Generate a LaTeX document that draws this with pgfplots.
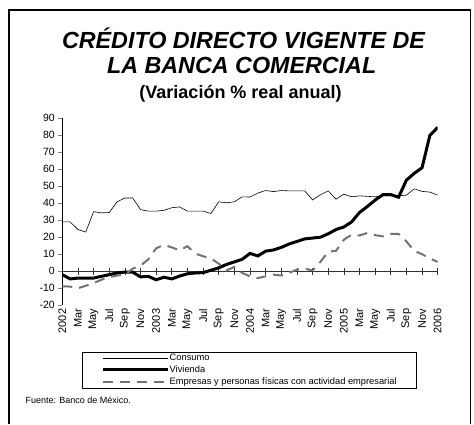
\documentclass[border=0pt]{standalone}
\usepackage{fontspec}
\setmainfont{Liberation Sans}
\usepackage{pgfplots}
\usepackage{pgfplotstable}
\pgfplotsset{compat=1.18}

% months since Jan 2002, Consumo, Vivienda, Empresas
\pgfplotstableread{
m  con   viv    emp
0  29    -2     -8.8
1  29    -4.5   -9
2  24.5  -4     -10
3  23    -4     -8.5
4  35    -4     -7
5  34.3  -3     -5
6  34.5  -2     -3.5
7  40.8  -1     -2.5
8  43    -0.5   -2
9  43    -0.5   1.5
10 36.2  -3.3   3.3
11 35.3  -3     7
12 35.3  -5     13.5
13 35.8  -3.5   15.5
14 37.3  -4.5   14
15 37.8  -2.8   12.3
16 35.3  -1.5   14.7
17 35.3  -1     10.4
18 35.3  -0.8   8.8
19 33.9  0.6    7.5
20 40.8  2      4.5
21 40.2  4      0.5
22 40.8  5.5    2.5
23 43.7  7      -1
24 43.6  10.5   -3
25 45.9  9      -4
26 47.4  11.8   -3
27 46.8  12.5   -2
28 47.4  14     -2.5
29 47.2  16     -1
30 47.2  17.5   1
31 47.2  19     1.5
32 41.9  19.5   0.5
33 44.9  20     5.5
34 47.2  22     11.5
35 42.3  24.5   12
36 45.3  26     18.5
37 43.7  29     21.5
38 44.3  34.5   21
39 44    38     22.5
40 43.7  41.8   21.2
41 44.3  45     20.5
42 44.3  45     22
43 44.3  43.5   22
44 44.7  53.5   17.5
45 48.4  57.5   12
46 46.9  60.8   10
47 46.5  79.8   7.5
48 44.7  84.5   5.5
}\credito

\begin{document}
\begin{tikzpicture}
\path[use as bounding box] (0pt,0pt) rectangle (474pt,-424pt);
\draw[line width=1.5pt] (9pt,-424pt) -- (9pt,-10pt) -- (470.5pt,-10pt) -- (470.5pt,-424pt);
\coordinate (O) at (62.3pt,-305.3pt);

\node[anchor=base, font=\fontsize{23.3}{26}\selectfont\bfseries\itshape] at (243.5pt,-48pt) {CRÉDITO DIRECTO VIGENTE DE};
\node[anchor=base, font=\fontsize{23.3}{26}\selectfont\bfseries\itshape] at (241.7pt,-73pt) {LA BANCA COMERCIAL};
\node[anchor=base, font=\fontsize{18}{20}\selectfont\bfseries] at (240.5pt,-98pt) {(Variación \% real anual)};
\node[anchor=base west, font=\fontsize{9}{10}\selectfont] at (22pt,-403pt) {Fuente: Banco de México.};

% zero line with centred ticks
\begin{axis}[
    at={(O)}, anchor=south west,
    scale only axis, width=375.4pt, height=187.3pt,
    xmin=0, xmax=48, ymin=-20, ymax=90,
    axis x line*=middle, axis y line=none,
    xtick={0,2,...,48}, xticklabels={},
    xtick align=center, major tick length=7pt,
    x axis line style={line width=0.7pt, black!80},
    tick style={line width=0.7pt, black!80},
    ytick=\empty,
]
\end{axis}

\begin{axis}[
    at={(O)}, anchor=south west,
    scale only axis, width=375.4pt, height=187.3pt,
    xmin=0, xmax=48, ymin=-20, ymax=90,
    axis y line*=left, axis x line*=bottom,
    x axis line style={draw=none},
    major x tick style={draw=none},
    y axis line style={line width=0.6pt},
    ytick align=outside, major tick length=4pt,
    ytick={-20,-10,...,90},
    yticklabels={-20,-10,0,10,20,30,40,50,60,70,80,90},
    y tick label style={font=\fontsize{10.5}{12}\selectfont},
    xtick={0,2,...,48},
    xticklabels={2002,Mar,May,Jul,Sep,Nov,2003,Mar,May,Jul,Sep,Nov,2004,Mar,May,Jul,Sep,Nov,2005,Mar,May,Jul,Sep,Nov,2006},
    x tick label style={rotate=90, anchor=east, font=\fontsize{11}{12}\selectfont},
    legend image code/.code={\draw[#1] (0pt,0pt) -- (65pt,0pt);},
    legend cell align=left,
    legend style={at={(rel axis cs:0.0525,-0.249)}, anchor=north west,
        draw=black, font=\fontsize{9.3}{10}\selectfont,
        inner xsep=19pt, inner ysep=1.5pt, row sep=2.6pt,
        nodes={inner xsep=0.5pt, inner ysep=0.5pt}},
]
\addplot[black, line width=0.6pt] table[x=m, y=con] {\credito};
\addlegendentry{Consumo}
\addplot[black, line width=3pt] table[x=m, y=viv] {\credito};
\addlegendentry{Vivienda}
\addplot[black!55, line width=2pt, dash pattern=on 10pt off 7pt] table[x=m, y=emp] {\credito};
\addlegendentry{Empresas y personas físicas con actividad empresarial}
\end{axis}
\end{tikzpicture}
\end{document}
